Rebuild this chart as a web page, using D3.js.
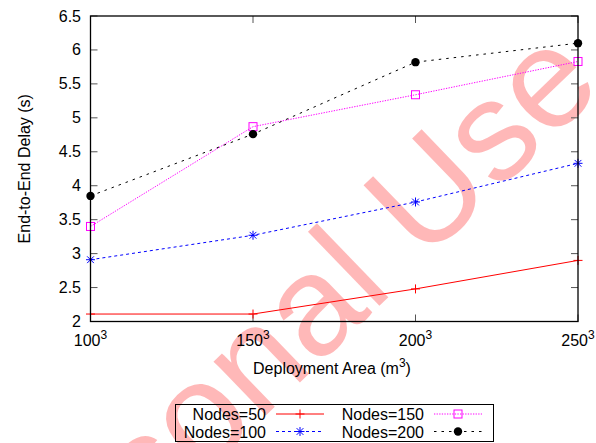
<!DOCTYPE html>
<html>
<head>
<meta charset="utf-8">
<script src="https://cdn.jsdelivr.net/npm/d3@7"></script>
<style>
  html, body { margin: 0; padding: 0; background: #fff; }
  svg { display: block; font-family: "Liberation Sans", Arial, Helvetica, sans-serif; }
</style>
</head>
<body>
<svg id="chart" width="596" height="443"></svg>
<script>
// Deployment area side length (m), plotted as side^3
const areas = [100, 150, 200, 250];
const yTicks = [2, 2.5, 3, 3.5, 4, 4.5, 5, 5.5, 6, 6.5];

// End-to-end delay (s) per node count
const nodes50  = [2.11, 2.11, 2.48, 2.90];
const nodes100 = [2.91, 3.27, 3.76, 4.33];
const nodes150 = [3.40, 4.87, 5.34, 5.83];
const nodes200 = [3.85, 4.76, 5.82, 6.10];

const seriesNames = ["Nodes=50", "Nodes=100", "Nodes=150", "Nodes=200"];

const series = [
  { name: seriesNames[0], values: nodes50,  color: "#ff0000", dash: null,    marker: "plus" },
  { name: seriesNames[1], values: nodes100, color: "#0000ff", dash: "3,3",   marker: "star" },
  { name: seriesNames[2], values: nodes150, color: "#ff00ff", dash: "1.3,1.3", marker: "square" },
  { name: seriesNames[3], values: nodes200, color: "#000000", dash: "2.5,5", marker: "circle" }
];

const svg = d3.select("#chart");
const margin = { left: 90.5, right: 578, top: 16, bottom: 321.5 };

const x = d3.scaleLinear().domain([100, 250]).range([margin.left, margin.right]);
const y = d3.scaleLinear().domain([2, 6.5]).range([margin.bottom, margin.top]);

// Watermark behind the plot
svg.append("text")
  .attr("transform", "translate(-8,680) rotate(-44)")
  .attr("font-size", 142)
  .attr("fill", "#ff0000")
  .attr("fill-opacity", 0.28)
  .attr("font-family", "Liberation Sans, Arial, sans-serif")
  .text("Personal Use");

// Tick marks (inward, mirrored on opposite sides)
const tickLen = 7;
const tickG = svg.append("g").attr("stroke", "#555").attr("stroke-width", 1);
yTicks.forEach(v => {
  tickG.append("line").attr("x1", x(100)).attr("x2", x(100) + tickLen).attr("y1", y(v)).attr("y2", y(v));
  tickG.append("line").attr("x1", x(250)).attr("x2", x(250) - tickLen).attr("y1", y(v)).attr("y2", y(v));
});
areas.forEach(a => {
  tickG.append("line").attr("x1", x(a)).attr("x2", x(a)).attr("y1", y(2)).attr("y2", y(2) - tickLen);
  tickG.append("line").attr("x1", x(a)).attr("x2", x(a)).attr("y1", y(6.5)).attr("y2", y(6.5) + tickLen);
});

// Y tick labels
svg.append("g").selectAll("text").data(yTicks).join("text")
  .attr("x", 81).attr("y", d => y(d) + 5.5)
  .attr("text-anchor", "end").attr("font-size", 16).attr("fill", "#000")
  .text(d => d3.format("")(d));

// X tick labels with cube superscript
const xl = svg.append("g").selectAll("text").data(areas).join("text")
  .attr("x", d => x(d)).attr("y", 346)
  .attr("text-anchor", "middle").attr("font-size", 16).attr("fill", "#000");
xl.append("tspan").text(d => d);
xl.append("tspan").attr("font-size", 12).attr("dy", -7).text("3");

// Axis titles
const xt = svg.append("text").attr("x", 332).attr("y", 374)
  .attr("text-anchor", "middle").attr("font-size", 16).attr("fill", "#000");
xt.append("tspan").text("Deployment Area (m");
xt.append("tspan").attr("font-size", 12).attr("dy", -7).text("3");
xt.append("tspan").attr("dy", 7).text(")");

svg.append("text")
  .attr("transform", `translate(30,${(margin.top + margin.bottom) / 2}) rotate(-90)`)
  .attr("text-anchor", "middle").attr("font-size", 16).attr("fill", "#000")
  .text("End-to-End Delay (s)");

// Marker drawing
function drawMarker(g, type, cx, cy, color) {
  const s = 4.5;
  if (type === "plus") {
    g.append("path").attr("d", `M${cx - s},${cy}H${cx + s}M${cx},${cy - s}V${cy + s}`)
      .attr("stroke", color).attr("stroke-width", 1).attr("fill", "none");
  } else if (type === "star") {
    const d = s * 0.75;
    g.append("path").attr("d",
      `M${cx - s},${cy}H${cx + s}M${cx},${cy - s}V${cy + s}M${cx - d},${cy - d}L${cx + d},${cy + d}M${cx - d},${cy + d}L${cx + d},${cy - d}`)
      .attr("stroke", color).attr("stroke-width", 1).attr("fill", "none");
  } else if (type === "square") {
    g.append("rect").attr("x", cx - 4).attr("y", cy - 4).attr("width", 8).attr("height", 8)
      .attr("stroke", color).attr("stroke-width", 1).attr("fill", "none");
  } else if (type === "circle") {
    g.append("circle").attr("cx", cx).attr("cy", cy).attr("r", 4.2).attr("fill", color);
  }
}

// Series lines and markers
const line = d3.line().x((d, i) => x(areas[i])).y(d => y(d));
series.forEach(s => {
  const g = svg.append("g");
  g.append("path").attr("d", line(s.values))
    .attr("fill", "none").attr("stroke", s.color).attr("stroke-width", 1)
    .attr("stroke-dasharray", s.dash);
  s.values.forEach((v, i) => drawMarker(g, s.marker, x(areas[i]), y(v), s.color));
});

// Plot border
svg.append("rect")
  .attr("x", margin.left).attr("y", margin.top)
  .attr("width", margin.right - margin.left).attr("height", margin.bottom - margin.top)
  .attr("fill", "none").attr("stroke", "#000").attr("stroke-width", 1.3);

// Legend
const legend = svg.append("g");
legend.append("rect").attr("x", 175.5).attr("y", 404.5).attr("width", 318).attr("height", 37)
  .attr("fill", "none").attr("stroke", "#000").attr("stroke-width", 1);
const legendPos = [
  { tx: 266, lx: 276, y: 414 },
  { tx: 266, lx: 276, y: 431.5 },
  { tx: 424, lx: 434, y: 414 },
  { tx: 424, lx: 434, y: 431.5 }
];
series.forEach((s, i) => {
  const p = legendPos[i];
  legend.append("text").attr("x", p.tx).attr("y", p.y + 6)
    .attr("text-anchor", "end").attr("font-size", 16).attr("fill", "#000").text(s.name);
  legend.append("line").attr("x1", p.lx).attr("x2", p.lx + 48).attr("y1", p.y).attr("y2", p.y)
    .attr("stroke", s.color).attr("stroke-width", 1).attr("stroke-dasharray", s.dash);
  drawMarker(legend, s.marker, p.lx + 24, p.y, s.color);
});
</script>
</body>
</html>
